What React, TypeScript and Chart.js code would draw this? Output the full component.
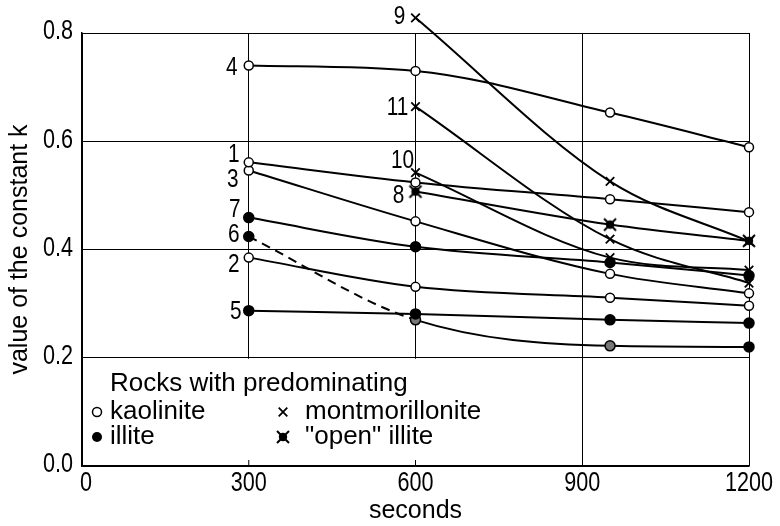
import React, { useEffect, useRef } from 'react';
import { Chart, registerables } from 'chart.js';
Chart.register(...registerables);

// ---- data ----
const xTickValues = [0, 300, 600, 900, 1200];
const yTickValues = [0, 0.2, 0.4, 0.6, 0.8];

const curveLabels = ['1', '2', '3', '4', '5', '6', '7', '8', '9', '10', '11'];
const curveTypes = ['kaolinite', 'kaolinite', 'kaolinite', 'kaolinite', 'illite', 'illite', 'illite', 'open', 'mont', 'mont', 'mont'];

const t1 = [300, 600, 950, 1200];
const k1 = [0.561, 0.524, 0.493, 0.469];
const t2 = [300, 600, 950, 1200];
const k2 = [0.385, 0.331, 0.311, 0.296];
const t3 = [300, 600, 950, 1200];
const k3 = [0.546, 0.452, 0.355, 0.319];
const t4 = [300, 600, 950, 1200];
const k4 = [0.740, 0.730, 0.653, 0.589];
const t5 = [300, 600, 950, 1200];
const k5 = [0.287, 0.281, 0.270, 0.264];
const t6 = [300, 600, 950, 1200];
const k6 = [0.424, 0.270, 0.222, 0.220];
const t7 = [300, 600, 950, 1200];
const k7 = [0.459, 0.405, 0.376, 0.352];
const t8 = [600, 950, 1200];
const k8 = [0.507, 0.446, 0.416];
const t9 = [600, 950, 1200];
const k9 = [0.828, 0.526, 0.415];
const t10 = [600, 950, 1200];
const k10 = [0.542, 0.385, 0.362];
const t11 = [600, 950, 1200];
const k11 = [0.664, 0.419, 0.338];

const allTimes = [t1, t2, t3, t4, t5, t6, t7, t8, t9, t10, t11];
const allK = [k1, k2, k3, k4, k5, k6, k7, k8, k9, k10, k11];

const legendTitle = 'Rocks with predominating';
const legendItems = [
  { type: 'kaolinite', text: 'kaolinite' },
  { type: 'mont', text: 'montmorillonite' },
  { type: 'illite', text: 'illite' },
  { type: 'open', text: '"open" illite' },
];

// ---- styles ----
const labelOffsets = [
  [-15, -8], [-15, 7], [-16, 9], [-17, 2], [-13, 1], [-15, -2],
  [-14, -8], [-17, 4], [-16, -1], [-13, -12], [-18, 1],
];
const TEXT = '"Liberation Sans", Arial, sans-serif';
const NARROW_SCALE = 0.8;

function makeStar(): HTMLCanvasElement {
  const c = document.createElement('canvas');
  c.width = 16; c.height = 16;
  const g = c.getContext('2d')!;
  g.fillStyle = '#000';
  g.beginPath(); g.arc(8, 8, 4.2, 0, Math.PI * 2); g.fill();
  g.strokeStyle = '#000'; g.lineWidth = 2;
  g.beginPath(); g.moveTo(2, 2); g.lineTo(14, 14); g.moveTo(14, 2); g.lineTo(2, 14); g.stroke();
  return c;
}

function drawMarker(ctx: CanvasRenderingContext2D, type: string, x: number, y: number, star: HTMLCanvasElement) {
  ctx.save();
  ctx.strokeStyle = '#000';
  ctx.fillStyle = '#000';
  if (type === 'kaolinite') {
    ctx.lineWidth = 1.5; ctx.fillStyle = '#fff';
    ctx.beginPath(); ctx.arc(x, y, 4.5, 0, Math.PI * 2); ctx.fill(); ctx.stroke();
  } else if (type === 'illite') {
    ctx.beginPath(); ctx.arc(x, y, 5, 0, Math.PI * 2); ctx.fill();
  } else if (type === 'mont') {
    ctx.lineWidth = 1.8;
    ctx.beginPath(); ctx.moveTo(x - 4.3, y - 4.3); ctx.lineTo(x + 4.3, y + 4.3); ctx.moveTo(x + 4.3, y - 4.3); ctx.lineTo(x - 4.3, y + 4.3); ctx.stroke();
  } else {
    ctx.drawImage(star, x - 8, y - 8);
  }
  ctx.restore();
}

function narrowText(ctx: CanvasRenderingContext2D, s: string, x: number, y: number) {
  ctx.save();
  ctx.translate(x, y);
  ctx.scale(NARROW_SCALE, 1);
  ctx.fillText(s, 0, 0);
  ctx.restore();
}

export default function App() {
  const ref = useRef<HTMLCanvasElement | null>(null);
  useEffect(() => {
    document.body.style.margin = '0';
    const star = makeStar();
    const datasets = allTimes.map((ts, i) => {
      const type = curveTypes[i];
      const data = ts.map((t, j) => ({ x: t, y: allK[i][j] }));
      let pointStyle: any = 'circle';
      let radius = 4.5;
      let bg: any = '#000';
      if (type === 'kaolinite') { bg = '#fff'; }
      if (type === 'illite') { radius = 5; }
      if (type === 'mont') { pointStyle = 'crossRot'; radius = 6; }
      if (type === 'open') { pointStyle = star; radius = 8; }
      if (i === 5) { bg = ['#000', '#777', '#777', '#000']; }
      return {
        label: curveLabels[i],
        data,
        borderColor: '#000',
        borderWidth: 2,
        cubicInterpolationMode: 'monotone',
        fill: false,
        clip: false as any,
        pointStyle,
        pointRadius: radius,
        pointBackgroundColor: bg,
        pointBorderColor: '#000',
        pointBorderWidth: type === 'mont' ? 1.8 : 1.5,
        segment: i === 5 ? { borderDash: (c: any) => (c.p0DataIndex === 0 ? [9, 6] : undefined) } : undefined,
      };
    });

    const overlay = {
      id: 'overlay',
      beforeDatasetsDraw(chart: any) {
        const { ctx, chartArea, scales } = chart;
        const y02 = scales.y.getPixelForValue(0.2);
        const xr = scales.x.getPixelForValue(860);
        ctx.save();
        ctx.fillStyle = '#fff';
        ctx.fillRect(chartArea.left + 1, y02 + 1, xr - chartArea.left - 1, chartArea.bottom - y02 - 2);
        ctx.strokeStyle = '#000';
        ctx.lineWidth = 1;
        [300, 600].forEach((v) => {
          const px = scales.x.getPixelForValue(v);
          ctx.beginPath(); ctx.moveTo(px, chartArea.bottom); ctx.lineTo(px, chartArea.bottom - 6); ctx.stroke();
        });
        ctx.restore();
      },
      afterDatasetsDraw(chart: any) {
        // markers of points lying above the plot frame (Chart.js skips them)
        const { ctx, chartArea } = chart;
        chart.data.datasets.forEach((_d: any, i: number) => {
          chart.getDatasetMeta(i).data.forEach((p: any) => {
            if (p.y < chartArea.top - 2) drawMarker(ctx, curveTypes[i], p.x, p.y, star);
          });
        });
      },
      afterDraw(chart: any) {
        const { ctx, chartArea, scales } = chart;
        ctx.save();
        ctx.fillStyle = '#000';
        // tick labels (narrow lettering)
        ctx.font = `27px ${TEXT}`;
        ctx.textAlign = 'center';
        ctx.textBaseline = 'top';
        xTickValues.forEach((v) => {
          const px = scales.x.getPixelForValue(v);
          narrowText(ctx, String(v), px + (v === 0 ? 4 : 0), chartArea.bottom + 4);
        });
        ctx.textAlign = 'right';
        ctx.textBaseline = 'middle';
        yTickValues.forEach((v) => {
          const py = scales.y.getPixelForValue(v);
          narrowText(ctx, v.toFixed(1), chartArea.left - 9, py - 1);
        });
        // curve numbers
        ctx.font = `26px ${TEXT}`;
        ctx.textAlign = 'center';
        ctx.textBaseline = 'middle';
        curveLabels.forEach((lab, i) => {
          const p = chart.getDatasetMeta(i).data[0];
          narrowText(ctx, lab, p.x + labelOffsets[i][0], p.y + labelOffsets[i][1]);
        });
        // legend
        const L = chartArea.left;
        const B = chartArea.bottom;
        ctx.textAlign = 'left';
        ctx.font = `26px ${TEXT}`;
        ctx.fillText(legendTitle, L + 28, B - 82);
        const rows = [B - 54, B - 29];
        const cols = [[L + 15, L + 28], [L + 201, L + 223]];
        legendItems.forEach((it, i) => {
          const r = Math.floor(i / 2);
          const c = i % 2;
          drawMarker(ctx, it.type, cols[c][0], rows[r], star);
          ctx.fillText(it.text, cols[c][1], rows[r]);
        });
        ctx.restore();
      },
    };

    const chart = new Chart(ref.current!, {
      type: 'line',
      data: { datasets: datasets as any },
      plugins: [overlay],
      options: {
        animation: false,
        responsive: false,
        layout: { padding: { top: 33, right: 31, left: 0, bottom: 0 } },
        plugins: { legend: { display: false }, tooltip: { enabled: false } },
        scales: {
          x: {
            type: 'linear',
            min: 0,
            max: 1200,
            afterFit: (s: any) => { s.height = 60; },
            afterBuildTicks: (s: any) => { s.ticks = xTickValues.map((v) => ({ value: v })); },
            ticks: { display: false },
            grid: { color: '#000', lineWidth: 1, drawTicks: false },
            border: { color: '#000', width: 1.5 },
            title: { display: true, text: 'seconds', color: '#000', font: { family: TEXT, size: 25 }, padding: { top: 0, bottom: 0 } },
          },
          y: {
            type: 'linear',
            min: 0,
            max: 0.8,
            afterFit: (s: any) => { s.width = 82; },
            afterBuildTicks: (s: any) => { s.ticks = yTickValues.map((v) => ({ value: v })); },
            ticks: { display: false },
            grid: { color: '#000', lineWidth: 1, drawTicks: false },
            border: { color: '#000', width: 1.5 },
            title: { display: true, text: 'value of the constant k', color: '#000', font: { family: TEXT, size: 25 }, padding: { top: 5, bottom: 0 } },
          },
        },
      },
    });
    return () => chart.destroy();
  }, []);
  return <canvas ref={ref} width={780} height={526} style={{ display: 'block' }} />;
}
